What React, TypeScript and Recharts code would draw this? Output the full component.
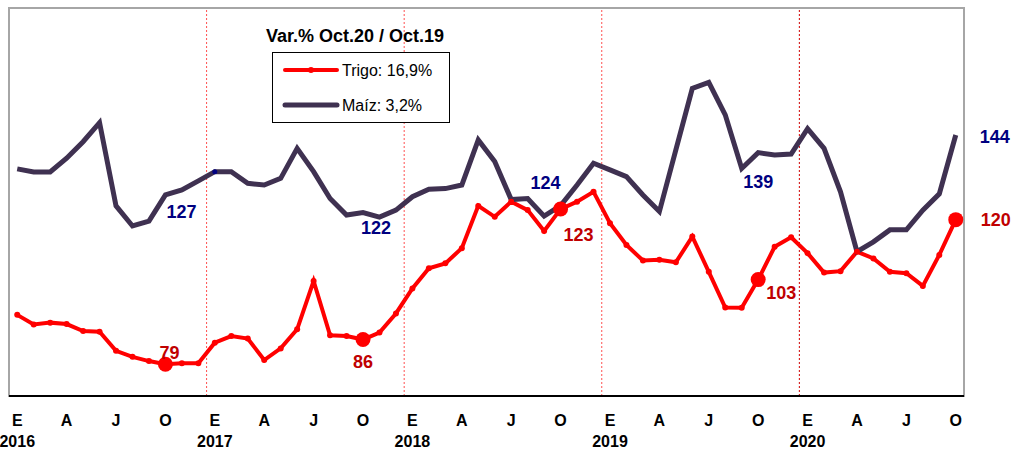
import { LineChart, Line, XAxis, YAxis, ReferenceLine, ReferenceArea } from 'recharts'

// Índices de precios, enero 2016 a octubre 2020
const years = ['2016', '2017', '2018', '2019', '2020']
const tickLetters = ['E', 'A', 'J', 'O']

const trigo = [
  93.0, 90.3, 90.8, 90.4, 88.4, 88.2, 82.8, 81.1, 79.9, 79, 79.3, 79.3,
  85.1, 87.0, 86.3, 80.2, 83.5, 88.9, 102.6, 87.2, 87.0, 86, 88.0, 93.4,
  100.5, 106.2, 107.6, 111.9, 123.9, 120.8, 125.1, 122.7, 116.8, 123, 125.1, 127.9,
  119.0, 112.8, 108.4, 108.6, 107.9, 115.2, 105.2, 95.1, 95.0, 103, 112.3, 115.0,
  110.5, 105.0, 105.4, 110.9, 109.0, 105.2, 104.8, 101.2, 110.0, 120,
]

const maiz = [
  134.4, 133.5, 133.5, 137.4, 142.1, 147.5, 123.9, 118.2, 119.6, 127, 128.4, 131.0,
  133.6, 133.6, 130.3, 129.8, 131.7, 140.2, 133.6, 126.0, 121.3, 122, 120.7, 122.7,
  126.5, 128.6, 128.8, 129.8, 142.6, 136.5, 125.7, 126.0, 121.0, 124, 129.8, 136.0,
  134.1, 132.2, 127.0, 122.3, 139.8, 157.2, 158.9, 149.7, 134.5, 139, 138.3, 138.6,
  145.8, 140.2, 127.9, 110.9, 113.7, 117.1, 117.1, 122.7, 127.3, 144,
]

const legendTitle = 'Var.% Oct.20 / Oct.19'
const trigoName = 'Trigo: 16,9%'
const maizName = 'Maíz: 3,2%'

const data = trigo.map((t, i) => ({ idx: i, trigo: t, maiz: maiz[i] }))
const tickIdx = data.filter(d => d.idx % 3 === 0).map(d => d.idx)
const yearBreaks = years.slice(1).map((_, i) => (i + 1) * 12 - 0.5)

const RED = '#ff0000'
const DARK_RED = '#c00000'
const PURPLE = '#3f3151'
const NAVY = '#000080'
const FONT = '"Liberation Sans", Arial, sans-serif'

// label offsets (from the point) for the October values
const trigoLabelPos: Record<number, [number, number]> = {
  9: [4, -12], 21: [0, 22], 33: [18, 25], 45: [23, 13], 57: [40, 0],
}
const maizLabelPos: Record<number, [number, number]> = {
  9: [16, 17], 21: [13, 15], 33: [-15, -23], 45: [0, 29], 57: [39, 2],
}

const renderTick = (props: any) => {
  const { x, y, payload } = props
  const v = payload.value
  const letter = tickLetters[(v / 3) % 4]
  const year = v % 12 === 0 ? years[v / 12] : null
  return (
    <g>
      <text x={x} y={y} dy={22} textAnchor="middle" fontSize={16} fontWeight={700} fill="#000" fontFamily={FONT}>
        {letter}
      </text>
      {year && (
        <text x={x} y={y} dy={43} textAnchor="middle" fontSize={16} fontWeight={700} fill="#000" fontFamily={FONT}>
          {year}
        </text>
      )}
    </g>
  )
}

const trigoDot = (props: any) => {
  const { cx, cy, index, value } = props
  const pos = trigoLabelPos[index]
  return (
    <g key={`t-${index}`}>
      <circle cx={cx} cy={cy} r={pos ? 7.5 : 3} fill={RED} />
      {pos && (
        <text x={cx + pos[0]} y={cy + pos[1] + 6.5} textAnchor="middle" fontSize={18} fontWeight={700} fill={DARK_RED} fontFamily={FONT}>
          {Math.round(value)}
        </text>
      )}
    </g>
  )
}

const maizDot = (props: any) => {
  const { cx, cy, index, value } = props
  const pos = maizLabelPos[index]
  return (
    <g key={`m-${index}`}>
      {index === 12 && <circle cx={cx} cy={cy} r={2.5} fill={NAVY} />}
      {pos && (
        <text x={cx + pos[0]} y={cy + pos[1] + 6.5} textAnchor="middle" fontSize={18} fontWeight={700} fill={NAVY} fontFamily={FONT}>
          {Math.round(value)}
        </text>
      )}
    </g>
  )
}

export default function App() {
  return (
    <div style={{ position: 'absolute', left: 0, top: 0, width: 1015, height: 452, background: '#fff', fontFamily: FONT }}>
      <LineChart width={1015} height={452} data={data} margin={{ top: 8, right: 51, bottom: 0, left: 9 }}>
        <XAxis
          type="number"
          dataKey="idx"
          domain={[-0.5, 57.5]}
          ticks={tickIdx}
          interval={0}
          tickLine={false}
          axisLine={{ stroke: '#000', strokeWidth: 2 }}
          tick={renderTick}
          height={56}
        />
        <YAxis hide type="number" domain={[70, 180]} />
        <ReferenceArea x1={-0.5} x2={57.5} y1={70} y2={180} fill="none" stroke="#a6a6a6" strokeWidth={2} />
        {yearBreaks.map((x, i) => (
          <ReferenceLine
            key={x}
            x={x}
            stroke={i === yearBreaks.length - 1 ? '#d00000' : '#ff5050'}
            strokeDasharray="2 2"
            strokeWidth={1}
          />
        ))}
        <Line
          type="linear"
          dataKey="trigo"
          stroke={RED}
          strokeWidth={4}
          dot={trigoDot}
          activeDot={false}
          isAnimationActive={false}
        />
        <Line
          type="linear"
          dataKey="maiz"
          stroke={PURPLE}
          strokeWidth={5}
          dot={maizDot}
          activeDot={false}
          isAnimationActive={false}
        />
      </LineChart>
      <svg width={1015} height={452} style={{ position: 'absolute', left: 0, top: 0, pointerEvents: 'none' }}>
        <text x={355} y={42} textAnchor="middle" fontSize={18} fontWeight={700} fill="#000" fontFamily={FONT}>
          {legendTitle}
        </text>
        <rect x={272.5} y={52.5} width={177} height={70} fill="#fff" stroke="#000" strokeWidth={1} />
        <line x1={285} x2={337} y1={70} y2={70} stroke={RED} strokeWidth={4} strokeLinecap="round" />
        <circle cx={311} cy={70} r={3} fill={RED} />
        <text x={342} y={76} fontSize={16} fill="#000" fontFamily={FONT}>{trigoName}</text>
        <line x1={285} x2={337} y1={105} y2={105} stroke={PURPLE} strokeWidth={5} strokeLinecap="round" />
        <text x={342} y={111} fontSize={16} fill="#000" fontFamily={FONT}>{maizName}</text>
      </svg>
    </div>
  )
}
